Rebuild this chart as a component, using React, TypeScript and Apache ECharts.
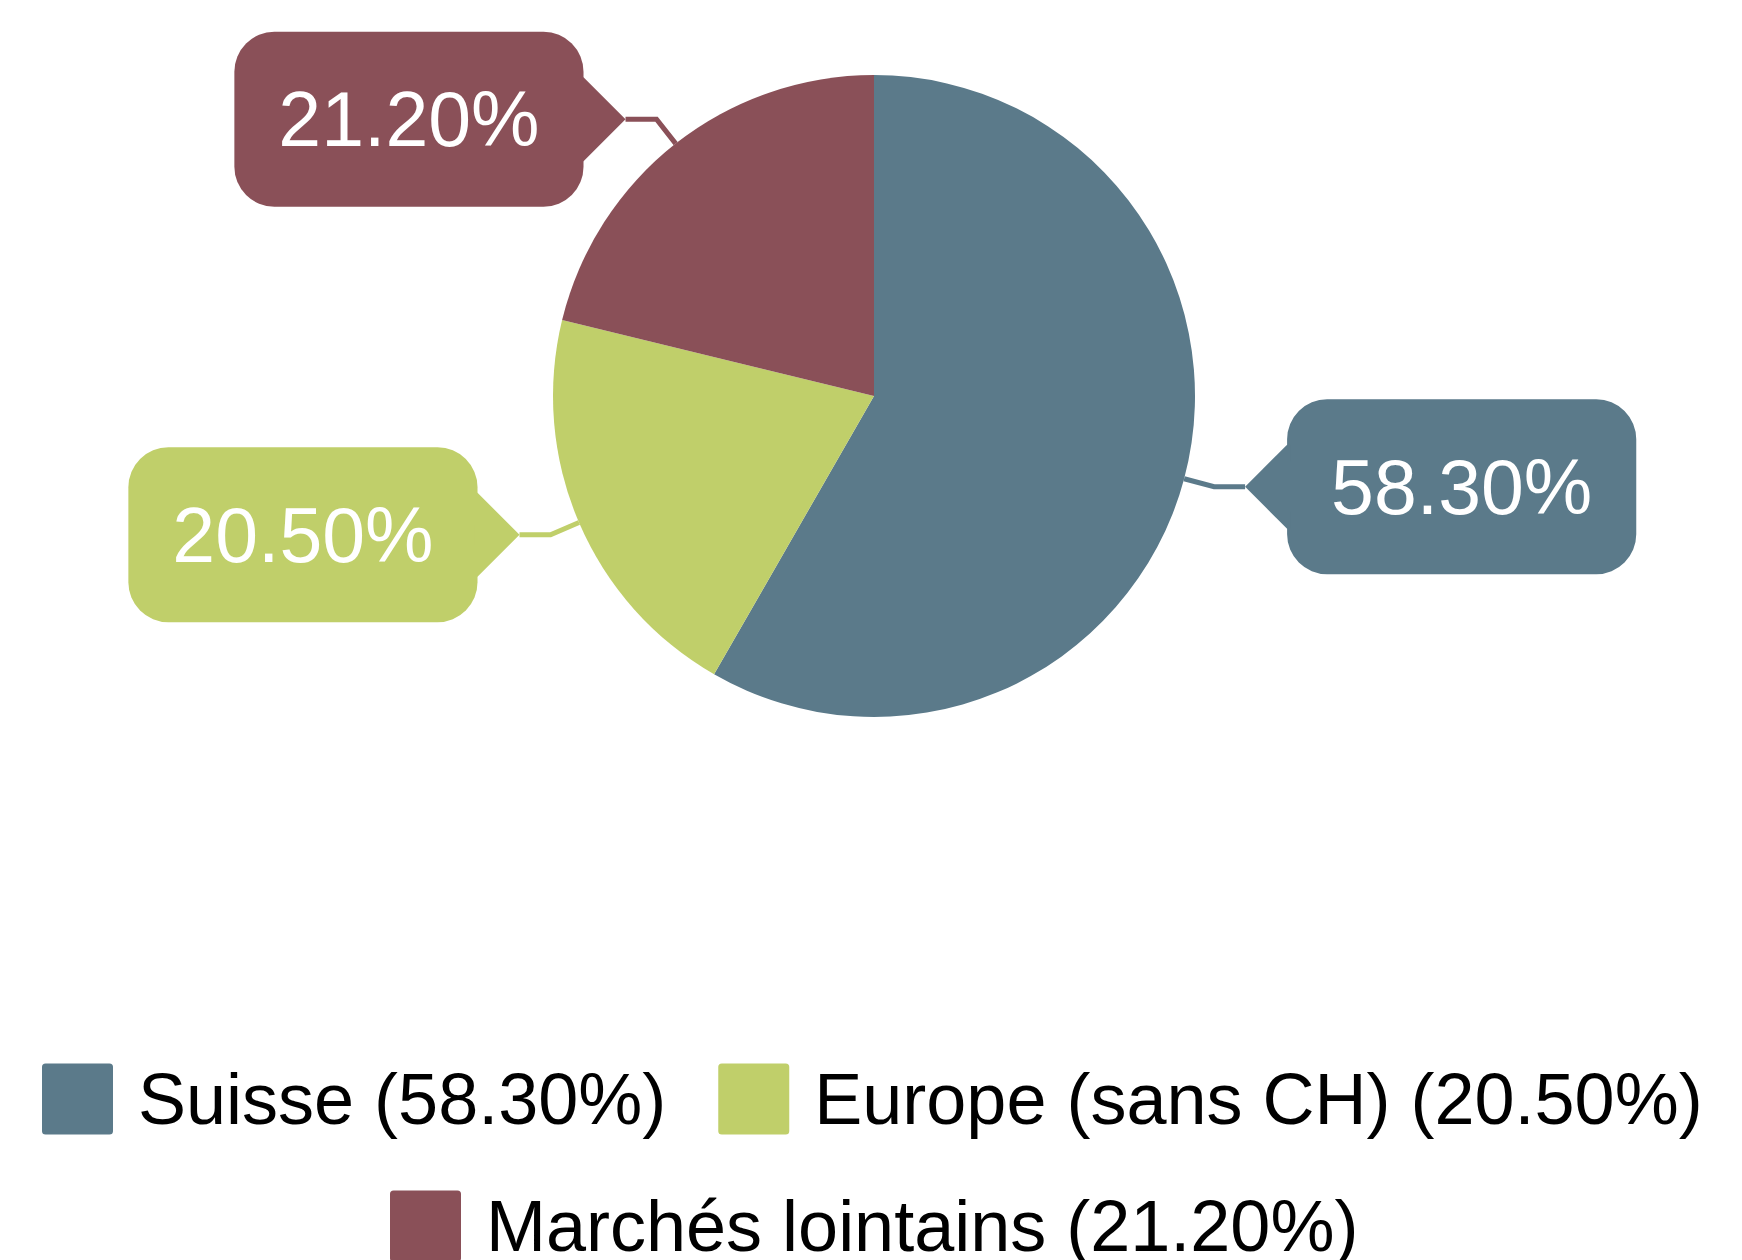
import React, { useEffect, useRef } from "react";
import * as echarts from "echarts";

const categories = ["Suisse", "Europe (sans CH)", "Marchés lointains"];
const shares = [58.3, 20.5, 21.2];
const colors = ["#5b7a8a", "#c0cf6a", "#8a5058"];
const legendRow1 = ["Suisse", "Europe (sans CH)"];
const legendRow2 = ["Marchés lointains"];

const FONT = "'Liberation Sans', Arial, Helvetica, sans-serif";
const CX = 874;
const CY = 396;
const R = 321;
const LEN1 = 31;
const LEN2 = 31;
const ARROW = 42;

export default function App() {
  const ref = useRef<HTMLDivElement>(null);

  useEffect(() => {
    document.body.style.margin = "0";
    document.body.style.overflow = "hidden";
    if (!ref.current) return;
    const chart = echarts.init(ref.current, null, { renderer: "svg" });

    const total = shares.reduce((a, b) => a + b, 0);
    let acc = 0;
    const arrows: any[] = [];
    shares.forEach((v, i) => {
      const theta = ((acc + v / 2) / total) * Math.PI * 2;
      acc += v;
      const nx = Math.sin(theta);
      const ny = -Math.cos(theta);
      const x1 = CX + R * nx;
      const y1 = CY + R * ny;
      const x2 = x1 + nx * LEN1;
      const y2 = y1 + ny * LEN1;
      const dir = nx < 0 ? -1 : 1;
      const x3 = x2 + dir * LEN2;
      arrows.push({
        type: "polygon",
        silent: true,
        z: 10,
        shape: {
          points: [
            [x3, y2],
            [x3 + dir * ARROW, y2 - ARROW],
            [x3 + dir * (ARROW + 3), y2 - ARROW],
            [x3 + dir * (ARROW + 3), y2 + ARROW],
            [x3 + dir * ARROW, y2 + ARROW],
          ],
        },
        style: { fill: colors[i] },
      });
    });

    const legendIcon =
      "path://M5,0H95Q100,0,100,5V95Q100,100,95,100H5Q0,100,0,95V5Q0,0,5,0Z";
    const legendFormatter = (name: string) => {
      const idx = categories.indexOf(name);
      return `${name} (${shares[idx].toFixed(2)}%)`;
    };
    const legendBase = {
      orient: "horizontal",
      padding: 0,
      itemWidth: 71,
      itemHeight: 71,
      itemGap: 52,
      icon: legendIcon,
      selectedMode: false,
      formatter: legendFormatter,
      textStyle: {
        fontSize: 72,
        color: "#000",
        fontFamily: FONT,
        padding: [0, 0, 0, 20],
      },
    };

    chart.setOption({
      animation: false,
      backgroundColor: "#ffffff",
      color: colors,
      legend: [
        { ...legendBase, data: legendRow1, top: 1063, left: 42 },
        { ...legendBase, data: legendRow2, top: 1190, left: 390 },
      ],
      graphic: arrows,
      series: [
        {
          type: "pie",
          center: [CX, CY],
          radius: [0, R],
          startAngle: 90,
          clockwise: true,
          avoidLabelOverlap: false,
          emphasis: { disabled: true },
          label: {
            show: true,
            position: "outside",
            distanceToLabelLine: ARROW,
            formatter: (p: any) => `${Number(p.value).toFixed(2)}%`,
            color: "#ffffff",
            fontSize: 77,
            lineHeight: 77,
            fontFamily: FONT,
            borderRadius: 40,
            padding: [49, 44],
          },
          labelLine: {
            show: true,
            length: LEN1,
            length2: LEN2,
            smooth: false,
            lineStyle: { width: 5 },
          },
          data: categories.map((name, i) => ({
            name,
            value: shares[i],
            itemStyle: { color: colors[i] },
            label: { backgroundColor: colors[i] },
            labelLine: { lineStyle: { color: colors[i], width: 5 } },
          })),
        },
      ],
    });

    return () => chart.dispose();
  }, []);

  return <div ref={ref} style={{ width: 1742, height: 1260 }} />;
}
